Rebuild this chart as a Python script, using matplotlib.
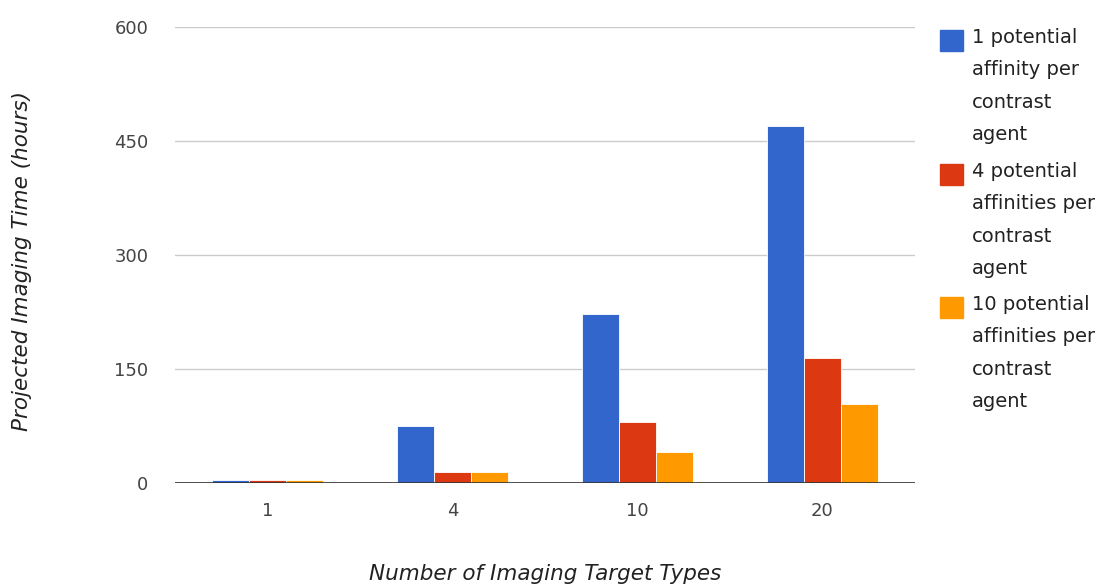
import matplotlib
matplotlib.use('Agg')
import matplotlib.pyplot as plt
from matplotlib.patches import Rectangle
import numpy as np

# данные
target_types = ['1', '4', '10', '20']
one_affinity = [4, 75, 222, 470]
four_affinities = [4, 15, 80, 164]
ten_affinities = [4, 15, 41, 104]

series_names = ['1 potential\naffinity per\ncontrast\nagent',
                '4 potential\naffinities per\ncontrast\nagent',
                '10 potential\naffinities per\ncontrast\nagent']
colors = ['#3366cc', '#dc3912', '#ff9900']

W, H = 1112, 585
plt.rcParams['font.family'] = 'DejaVu Sans'
fig = plt.figure(figsize=(W / 100, H / 100), dpi=100)
ax = fig.add_axes([175 / W, 1 - 483 / H, 740 / W, 456 / H])

x = np.arange(len(target_types))
width = 0.2
for i, vals in enumerate([one_affinity, four_affinities, ten_affinities]):
    ax.bar(x + (i - 1) * width, vals, width, color=colors[i],
           edgecolor='white', linewidth=0.6, zorder=3)

ax.set_xlim(-0.5, len(target_types) - 0.5)
ax.set_ylim(0, 600)
ax.set_yticks([0, 150, 300, 450, 600])
ax.set_xticks(x)
ax.set_xticklabels(target_types)
ax.grid(axis='y', color='#cccccc', linewidth=1, zorder=0)
ax.axhline(0, color='#333333', linewidth=1.2, zorder=4)
for s in ax.spines.values():
    s.set_visible(False)
ax.tick_params(length=0, labelsize=13, colors='#444444')
ax.tick_params(axis='y', pad=19)
ax.tick_params(axis='x', pad=14)

ax.set_xlabel('Number of Imaging Target Types', fontsize=15.5, style='italic',
              color='#222222', labelpad=31)
ax.set_ylabel('Projected Imaging Time (hours)', fontsize=15.5, style='italic',
              color='#222222')
ax.yaxis.set_label_coords(-0.193, 0.486)

# легенда справа
tops = [30, 164, 297]
for i, name in enumerate(series_names):
    y0 = tops[i]
    fig.add_artist(Rectangle((940 / W, 1 - (y0 + 21) / H), 23 / W, 21 / H,
                             transform=fig.transFigure, color=colors[i]))
    fig.text(972 / W, 1 - (y0 - 2) / H, name, fontsize=14, color='#222222',
             va='top', ha='left', linespacing=1.89)

fig.savefig('out.png', dpi=100)
